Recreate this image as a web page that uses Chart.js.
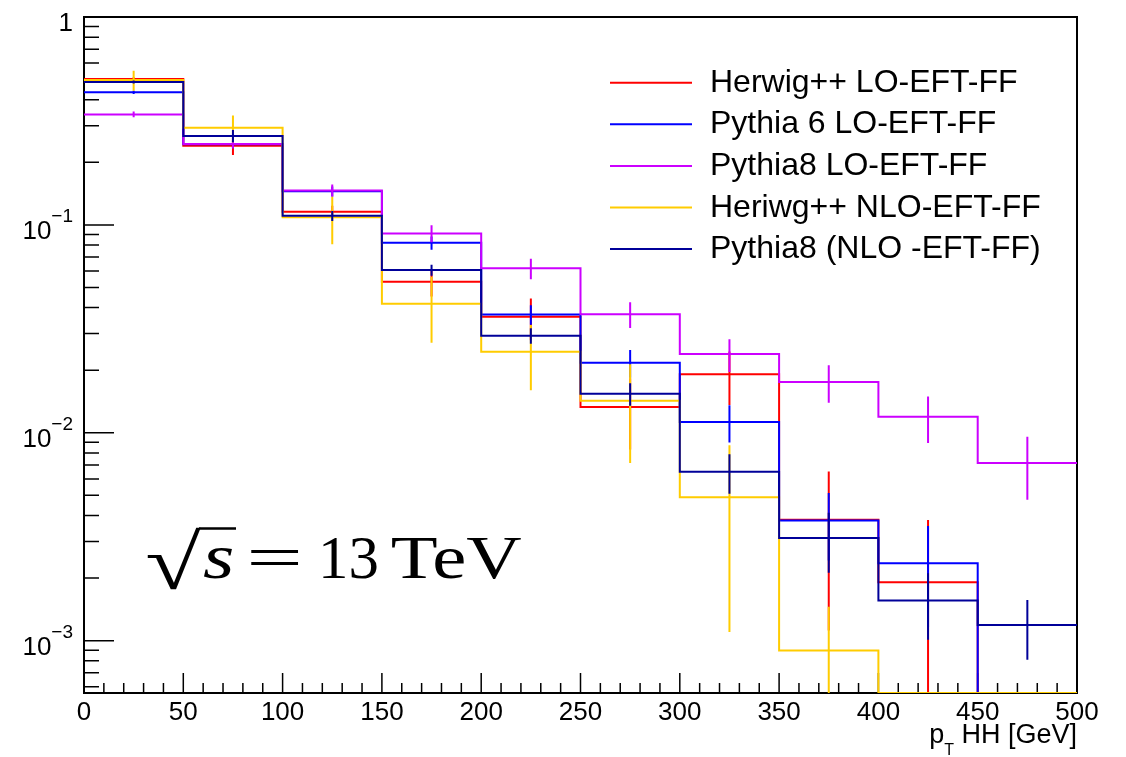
<!DOCTYPE html>
<html>
<head>
<meta charset="utf-8">
<script src="https://cdn.jsdelivr.net/npm/chart.js@4.4.1/dist/chart.umd.min.js"></script>
<style>
  html, body { margin: 0; padding: 0; background: #fff; }
  #wrap { width: 1126px; height: 757px; position: relative; }
</style>
</head>
<body>
<div id="wrap"><canvas id="ptChart"></canvas></div>
<script>
// pT(HH) bins, GeV
const binEdges = [0, 50, 100, 150, 200, 250, 300, 350, 400, 450, 500];
const xTickValues = [0, 50, 100, 150, 200, 250, 300, 350, 400, 450, 500];
const yLabelExponents = [0, -1, -2, -3];
const Y_MIN = 5.6e-4;
const Y_MAX = 1;

const seriesNames = [
  'Herwig++ LO-EFT-FF',
  'Pythia 6 LO-EFT-FF',
  'Pythia8 LO-EFT-FF',
  'Heriwg++ NLO-EFT-FF',
  'Pythia8 (NLO -EFT-FF)'
];

// normalised bin contents and their errors
const herwigLO     = [0.503, 0.240, 0.1157, 0.0532, 0.0361, 0.0133, 0.0191, 0.00382, 0.00191, 0];
const herwigLOErr  = [0.010, 0.023, 0.008, 0.008, 0.0082, 0.005, 0.0055, 0.0027, 0.0019, 0];
const pythia6LO    = [0.434, 0.244, 0.145, 0.082, 0.0371, 0.0217, 0.01128, 0.00378, 0.00236, 0];
const pythia6LOErr = [0.008, 0.010, 0.008, 0.006, 0.004, 0.0033, 0.0023, 0.00135, 0.0012, 0];
const pythia8LO    = [0.340, 0.245, 0.1465, 0.091, 0.0618, 0.0372, 0.0239, 0.01753, 0.01193, 0.00716];
const pythia8LOErr = [0.011, 0.012, 0.010, 0.0085, 0.007, 0.0053, 0.0043, 0.0036, 0.0030, 0.0024];
const herwigNLO    = [0.497, 0.293, 0.1087, 0.0417, 0.0245, 0.01425, 0.0049, 0.000896, 0, 0];
const herwigNLOErr = [0.055, 0.043, 0.028, 0.0146, 0.0085, 0.0071, 0.0038, 0.00056, 0, 0];
const pythia8NLO   = [0.487, 0.268, 0.1105, 0.0606, 0.0293, 0.0154, 0.00649, 0.00312, 0.00156, 0.00119];
const pythia8NLOErr= [0.008, 0.018, 0.006, 0.0037, 0.0025, 0.0019, 0.0014, 0.0010, 0.00055, 0.00038];

const seriesValues = [herwigLO, pythia6LO, pythia8LO, herwigNLO, pythia8NLO];
const seriesErrors = [herwigLOErr, pythia6LOErr, pythia8LOErr, herwigNLOErr, pythia8NLOErr];
const seriesColors = ['#ff0000', '#0000ff', '#cc00ff', '#ffcc00', '#000099'];
const drawOrder = [4, 3, 2, 1, 0]; // last series ends up on top

// step outline: one point per low edge plus the closing edge
function histPoints(vals) {
  const pts = vals.map((v, i) => ({ x: binEdges[i], y: Math.max(v, Y_MIN) }));
  pts.push({ x: binEdges[binEdges.length - 1], y: Math.max(vals[vals.length - 1], Y_MIN) });
  return pts;
}

// vertical error bars at bin centres, separated by null gaps
function errPoints(vals, errs) {
  const pts = [];
  vals.forEach((v, i) => {
    if (v <= 0) return;
    const c = (binEdges[i] + binEdges[i + 1]) / 2;
    pts.push({ x: c, y: Math.max(v - errs[i], Y_MIN) }, { x: c, y: v + errs[i] }, { x: c, y: null });
  });
  return pts;
}

const datasets = [];
seriesNames.forEach((name, k) => {
  datasets.push({
    label: name,
    data: histPoints(seriesValues[k]),
    borderColor: seriesColors[k],
    borderWidth: 2,
    stepped: true,
    pointRadius: 0,
    fill: false,
    order: drawOrder[k]
  });
  datasets.push({
    label: name + ' errors',
    isErr: true,
    data: errPoints(seriesValues[k], seriesErrors[k]),
    borderColor: seriesColors[k],
    borderWidth: 2,
    pointRadius: 0,
    fill: false,
    spanGaps: false,
    order: drawOrder[k]
  });
});

const FONT = '"Liberation Sans", Arial, sans-serif';
const SERIF = '"Liberation Serif", "Times New Roman", serif';

// draw text so that its ink box spans [left, right]; baseline kept
function fitText(ctx, text, font, left, right, baseline) {
  ctx.font = font;
  const m = ctx.measureText(text);
  const w = m.actualBoundingBoxLeft + m.actualBoundingBoxRight;
  ctx.save();
  ctx.translate(left, baseline);
  ctx.scale((right - left) / w, 1);
  ctx.textAlign = 'left';
  ctx.fillText(text, m.actualBoundingBoxLeft, 0);
  ctx.restore();
}

const rootStyle = {
  id: 'rootStyle',
  beforeDatasetsDraw(chart) {
    const { ctx, chartArea: a, scales: { x, y } } = chart;
    ctx.save();
    ctx.strokeStyle = '#000';
    ctx.lineWidth = 2;
    ctx.strokeRect(a.left, a.top, a.right - a.left, a.bottom - a.top);

    ctx.lineWidth = 1.5;
    ctx.beginPath();
    for (let v = x.min; v <= x.max; v += 10) {
      const px = x.getPixelForValue(v);
      const len = v % 50 === 0 ? 20 : 10;
      ctx.moveTo(px, a.bottom);
      ctx.lineTo(px, a.bottom - len);
    }
    for (let e = -4; e <= 0; e++) {
      for (let m = 1; m <= 9; m++) {
        const v = m * Math.pow(10, e);
        if (v < y.min || v > y.max * 1.0001) continue;
        const py = y.getPixelForValue(v);
        ctx.moveTo(a.left, py);
        ctx.lineTo(a.left + (m === 1 ? 30 : 15), py);
      }
    }
    ctx.stroke();
    ctx.restore();
  },
  afterDraw(chart) {
    const { ctx, chartArea: a, scales: { y } } = chart;
    ctx.save();
    ctx.fillStyle = '#000';
    ctx.textBaseline = 'alphabetic';

    // y labels: 1, 10^-1, ...
    const labelRight = a.left - 11;
    yLabelExponents.forEach(e => {
      const py = y.getPixelForValue(Math.pow(10, e));
      if (e === 0) {
        ctx.font = '26px ' + FONT;
        ctx.textAlign = 'right';
        ctx.fillText('1', labelRight, py + 14);
        return;
      }
      const sup = '\u2212' + (-e);
      ctx.font = '19px ' + FONT;
      ctx.textAlign = 'right';
      ctx.fillText(sup, labelRight, py - 3);
      const w = ctx.measureText(sup).width;
      ctx.font = '26px ' + FONT;
      ctx.fillText('10', labelRight - w, py + 14);
    });

    // axis title  p_T HH [GeV]
    ctx.textAlign = 'left';
    ctx.font = '27px ' + FONT;
    const tail = ' HH [GeV]';
    const wTail = ctx.measureText(tail).width;
    const wP = ctx.measureText('p').width;
    ctx.font = '16px ' + FONT;
    const wT = ctx.measureText('T').width;
    const tx = a.right - wTail - wT - wP;
    ctx.font = '27px ' + FONT;
    ctx.fillText('p', tx, 743);
    ctx.font = '16px ' + FONT;
    ctx.fillText('T', tx + wP, 755);
    ctx.font = '27px ' + FONT;
    ctx.fillText(tail, tx + wP + wT, 743);

    // legend
    chart.data.datasets.filter(d => !d.isErr).forEach((d, i) => {
      const ly = 82.7 + i * 41.6;
      ctx.strokeStyle = d.borderColor;
      ctx.lineWidth = 2;
      ctx.beginPath();
      ctx.moveTo(610, ly);
      ctx.lineTo(692, ly);
      ctx.stroke();
      ctx.font = '32px ' + FONT;
      ctx.fillText(d.label, 710, ly + 9);
    });

    // sqrt(s) = 13 TeV
    ctx.fillStyle = '#000';
    ctx.font = '60px ' + SERIF;
    const r = ctx.measureText('\u221A');
    const rw = r.actualBoundingBoxLeft + r.actualBoundingBoxRight;
    const rh = r.actualBoundingBoxAscent + r.actualBoundingBoxDescent;
    ctx.save();
    ctx.translate(147, 527);
    ctx.scale(54 / rw, 63 / rh);
    ctx.textAlign = 'left';
    ctx.fillText('\u221A', r.actualBoundingBoxLeft, r.actualBoundingBoxAscent);
    ctx.restore();
    ctx.strokeStyle = '#000';
    ctx.lineWidth = 2.5;
    ctx.beginPath();
    ctx.moveTo(199, 528.5);
    ctx.lineTo(236, 528.5);
    ctx.stroke();
    fitText(ctx, 's', 'italic 64px ' + SERIF, 203, 232, 578);
    fitText(ctx, '=', '62px ' + SERIF, 251, 298, 578);
    fitText(ctx, '13', '62px ' + SERIF, 323, 377, 578);
    fitText(ctx, 'TeV', '62px ' + SERIF, 392, 522, 578);
    ctx.restore();
  }
};

new Chart(document.getElementById('ptChart'), {
  type: 'line',
  data: { datasets: datasets },
  options: {
    responsive: true,
    maintainAspectRatio: false,
    animation: false,
    layout: { padding: { top: 17, right: 49, left: 0, bottom: 0 } },
    plugins: { legend: { display: false }, tooltip: { enabled: false } },
    scales: {
      x: {
        type: 'linear',
        min: 0,
        max: 500,
        afterBuildTicks: s => { s.ticks = xTickValues.map(v => ({ value: v })); },
        afterFit: s => { s.height = 64; },
        grid: { display: false, drawTicks: false },
        border: { display: false },
        ticks: { color: '#000', font: { family: FONT, size: 26 }, padding: 4, maxRotation: 0, autoSkip: false }
      },
      y: {
        type: 'logarithmic',
        min: Y_MIN,
        max: Y_MAX,
        afterFit: s => { s.width = 84; },
        grid: { display: false, drawTicks: false },
        border: { display: false },
        ticks: { display: false }
      }
    }
  },
  plugins: [rootStyle]
});
</script>
</body>
</html>
